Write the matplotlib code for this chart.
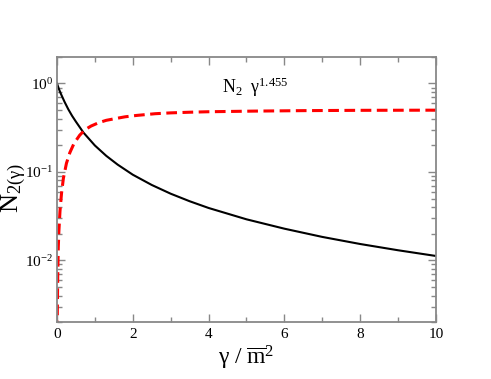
import matplotlib
matplotlib.use("Agg")
import matplotlib.pyplot as plt
from matplotlib.ticker import MultipleLocator, LogLocator, NullFormatter

plt.rcParams['font.family'] = ['Liberation Serif', 'DejaVu Serif']
plt.rcParams['mathtext.fontset'] = 'custom'
plt.rcParams['mathtext.rm'] = 'Liberation Serif'
plt.rcParams['mathtext.it'] = 'Liberation Serif:italic'

# N2(gamma), black solid
gam_n2 = [0.0, 0.05, 0.1, 0.2, 0.3, 0.4, 0.5, 0.7, 1.0, 1.3, 1.6, 2.0, 2.5,
          3.0, 3.5, 4.0, 5.0, 6.0, 7.0, 8.0, 9.0, 10.0]
n2 = [1.0, 0.87, 0.77, 0.62, 0.51, 0.43, 0.37, 0.278, 0.199, 0.152, 0.121,
      0.093, 0.0712, 0.0567, 0.0466, 0.0391, 0.0291, 0.0228, 0.0184, 0.0153,
      0.0130, 0.0112]

# N2 * gamma^1.455, red dashed
gam_sc = [0.0, 0.005, 0.01, 0.02, 0.035, 0.05, 0.08, 0.12, 0.17, 0.25, 0.34,
          0.45, 0.6, 0.74, 0.9, 1.1, 1.3, 1.53, 1.8, 2.1, 2.59, 3.0, 3.5, 4.0,
          5.2, 6.5, 8.0, 10.0]
n2_sc = [0.0, 0.0012, 0.0027, 0.0065, 0.014, 0.021, 0.036, 0.057, 0.085,
         0.125, 0.165, 0.21, 0.26, 0.30, 0.33, 0.36, 0.383, 0.40, 0.42, 0.435,
         0.455, 0.465, 0.473, 0.479, 0.487, 0.493, 0.497, 0.499]

fig = plt.figure(figsize=(4.91, 3.79), dpi=100)
ax = fig.add_axes([0.116, 0.150, 0.772, 0.700])

ax.plot(gam_n2, n2, color='black', lw=1.5)
ax.plot(gam_sc, n2_sc, color='red', lw=2.2, linestyle=(0, (3.5, 1.8)))

ax.set_yscale('log')
ax.set_xlim(0, 10)
ax.set_ylim(2e-3, 2)

ax.xaxis.set_major_locator(MultipleLocator(2))
ax.xaxis.set_minor_locator(MultipleLocator(1))
ax.yaxis.set_major_locator(LogLocator(base=10, numticks=10))
ax.yaxis.set_minor_locator(LogLocator(base=10, subs=range(2, 10), numticks=20))
ax.yaxis.set_minor_formatter(NullFormatter())

grey = '#888888'
for s in ax.spines.values():
    s.set_color(grey)
    s.set_linewidth(1.3)
ax.tick_params(which='both', direction='in', top=True, right=True, color=grey,
               labelsize=11, width=1.0)
ax.tick_params(which='major', length=6, pad=4)
ax.tick_params(axis='y', which='major', pad=2.5)
ax.tick_params(which='minor', length=3.5)

ax.set_xlabel(r'$\mathregular{γ\ /\ \overline{m}^2}$', fontsize=17, labelpad=2)
fig.text(0.028, 0.505, r'$\mathregular{N_{2(γ)}}$', fontsize=19,
         rotation=90, ha='center', va='center')

ax.text(4.35, 0.78, r'$\mathregular{N_2\ \ γ^{1.455}}$', fontsize=13)

fig.savefig('out.png', dpi=100)
